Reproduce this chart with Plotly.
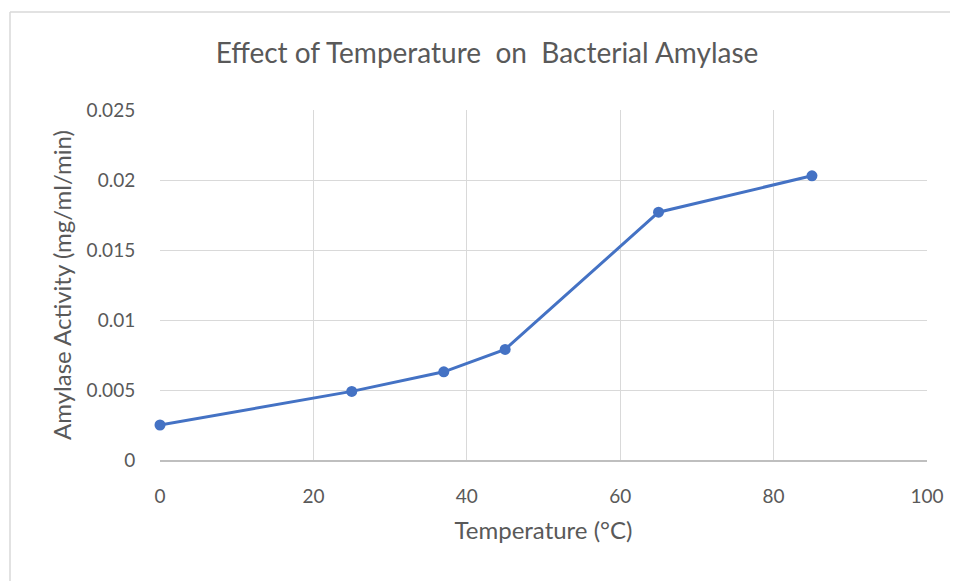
import plotly.graph_objects as go

temperature = [0, 25, 37, 45, 65, 85]
activity = [0.0025, 0.0049, 0.0063, 0.0079, 0.0177, 0.0203]
x_ticks = [0, 20, 40, 60, 80, 100]
y_ticks = [0, 0.005, 0.01, 0.015, 0.02, 0.025]
y_labels = ["0", "0.005", "0.01", "0.015", "0.02", "0.025"]

FONT = "Lato, Open Sans, sans-serif"
W, H = 958, 581
L, R, T, B = 152, 39, 102, 129
PW, PH = W - L - R, H - T - B

fig = go.Figure()
fig.add_trace(go.Scatter(
    x=temperature, y=activity, mode="lines+markers",
    line=dict(color="#4472C4", width=3),
    marker=dict(color="#4472C4", size=11),
    cliponaxis=False, showlegend=False))

fig.update_layout(
    width=W, height=H,
    margin=dict(l=L, r=R, t=T, b=B),
    paper_bgcolor="white", plot_bgcolor="white",
    font=dict(family=FONT, color="#595959", size=19),
    title=dict(text="Effect of Temperature  on  Bacterial Amylase", x=479 / W, xanchor="center",
               y=1 - 45 / H, yanchor="middle",
               font=dict(size=28, color="#595959", family=FONT)),
    xaxis=dict(range=[0, 100], tickvals=x_ticks, ticktext=[str(v) for v in x_ticks],
               showgrid=True, gridcolor="#D9D9D9", gridwidth=1,
               showline=True, linecolor="#BFBFBF", linewidth=1.5, zeroline=False,
               ticks="outside", ticklen=18, tickcolor="rgba(0,0,0,0)",
               tickfont=dict(size=19),
               title=dict(text="Temperature (°C)", standoff=17, font=dict(size=24, color="#595959"))),
    yaxis=dict(range=[0, 0.025], tickvals=y_ticks, ticktext=y_labels,
               showgrid=True, gridcolor="#D9D9D9", gridwidth=1,
               showline=False, zeroline=False,
               ticks="outside", ticklen=20, tickcolor="rgba(0,0,0,0)",
               tickfont=dict(size=19),
               title=dict(text="Amylase Activity (mg/ml/min)", standoff=8, font=dict(size=24, color="#595959"))),
    shapes=[
        dict(type="line", xref="paper", yref="paper", x0=(2 - L) / PW, x1=1.2, y0=1 + (T - 4) / PH, y1=1 + (T - 4) / PH,
             line=dict(color="#D9D9D9", width=1.5)),
        dict(type="line", xref="paper", yref="paper", x0=(2 - L) / PW, x1=(2 - L) / PW, y0=1 + (T - 4) / PH, y1=-0.5,
             line=dict(color="#D9D9D9", width=1.5)),
    ],
)
fig.write_html("out.html")
